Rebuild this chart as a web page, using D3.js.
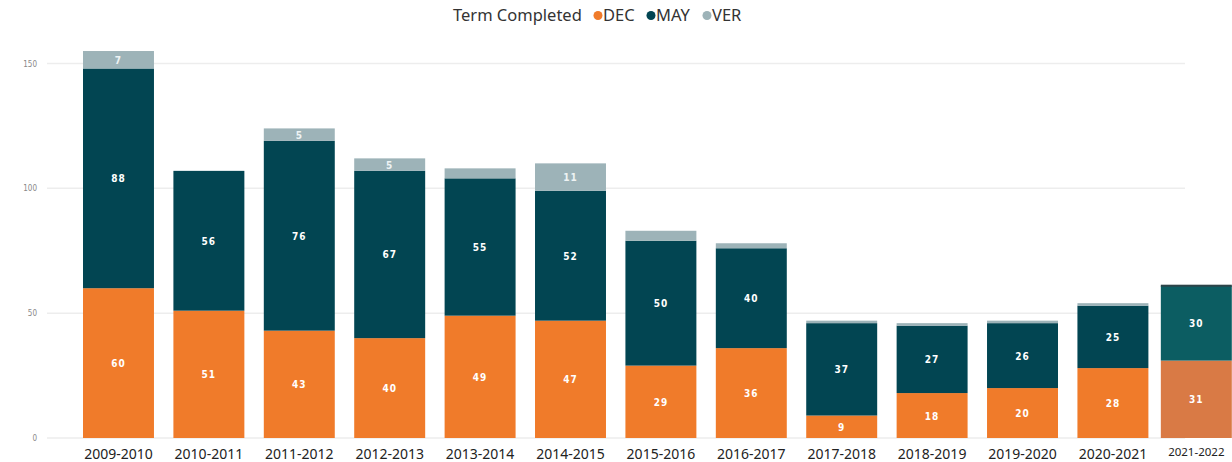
<!DOCTYPE html>
<html>
<head>
<meta charset="utf-8">
<script src="https://cdn.jsdelivr.net/npm/d3@7"></script>
<style>
  body { margin: 0; background: #fff; }
  svg { display: block; }
</style>
</head>
<body>
<div id="chart"></div>
<script>
// chart values
const years = ["2009-2010", "2010-2011", "2011-2012", "2012-2013", "2013-2014", "2014-2015",
  "2015-2016", "2016-2017", "2017-2018", "2018-2019", "2019-2020", "2020-2021", "2021-2022"];
const dec = [60, 51, 43, 40, 49, 47, 29, 36, 9, 18, 20, 28, 31];
const may = [88, 56, 76, 67, 55, 52, 50, 40, 37, 27, 26, 25, 30];
const ver = [7, 0, 5, 5, 4, 11, 4, 2, 1, 1, 1, 1, 0];
const yTicks = [0, 50, 100, 150];
const terms = ["DEC", "MAY", "VER"];

const width = 1232;
const height = 462;

const colors = { DEC: "#f07b2a", MAY: "#024552", VER: "#9db3b8" };
// the last year looks pasted in from another chart, with its own shades
const lastColors = { DEC: "#d97a45", MAY: "#0c5d62", VER: "#9db3b8" };

const svg = d3.select("#chart").append("svg")
  .attr("width", width)
  .attr("height", height);

const y = d3.scaleLinear().domain([0, 150]).range([438, 63.5]);
const step = 90.4;
const x = d3.scaleBand().domain(years)
  .range([83, 83 + step * (years.length - 1) + 71])
  .paddingInner(0.215).paddingOuter(0);
const lastYear = years[years.length - 1];
const xPos = (d) => x(d) + (d === lastYear ? -7 : 0);

// gridlines + y labels
svg.append("g").selectAll("line")
  .data(yTicks)
  .enter().append("line")
  .attr("x1", 47).attr("x2", 1185)
  .attr("y1", (d) => y(d)).attr("y2", (d) => y(d))
  .attr("stroke", "#ededed").attr("stroke-width", 1.5);

svg.append("g").selectAll("text")
  .data(yTicks)
  .enter().append("text")
  .attr("x", 37).attr("y", (d) => y(d) + 3)
  .attr("text-anchor", "end")
  .attr("font-family", "DejaVu Sans Condensed")
  .attr("font-size", 8)
  .attr("fill", "#888")
  .text((d) => d);

// stack the data
const rows = years.map((yr, i) => ({ year: yr, DEC: dec[i], MAY: may[i], VER: ver[i] }));
const series = d3.stack().keys(terms)(rows);

const groups = svg.append("g").selectAll("g")
  .data(series)
  .enter().append("g");

groups.selectAll("rect")
  .data((s) => s.map((d) => ({ key: s.key, y0: d[0], y1: d[1], year: d.data.year })))
  .enter().append("rect")
  .attr("x", (d) => xPos(d.year))
  .attr("width", x.bandwidth())
  .attr("y", (d) => y(d.y1))
  .attr("height", (d) => y(d.y0) - y(d.y1))
  .attr("fill", (d) => d.year === lastYear ? lastColors[d.key] : colors[d.key]);

// thin dark top edge on the pasted bar
const lastTotal = dec[12] + may[12] + ver[12];
svg.append("rect")
  .attr("x", xPos(lastYear)).attr("width", x.bandwidth())
  .attr("y", y(lastTotal) - 1).attr("height", 2)
  .attr("fill", "#2d4449");

// value labels
groups.selectAll("text")
  .data((s) => s.map((d) => ({ key: s.key, y0: d[0], y1: d[1], year: d.data.year })))
  .enter()
  .filter((d) => d.y1 - d.y0 >= 5)
  .append("text")
  .attr("x", (d) => xPos(d.year) + x.bandwidth() / 2)
  .attr("y", (d) => (y(d.y0) + y(d.y1)) / 2 + 4)
  .attr("text-anchor", "middle")
  .attr("font-family", "DejaVu Sans Condensed")
  .attr("font-weight", "bold")
  .attr("font-size", 10)
  .attr("letter-spacing", 1)
  .attr("fill", (d) => d.key === "VER" ? "#eef3f4" : "#fff")
  .text((d) => d.y1 - d.y0);

// x labels
svg.append("g").selectAll("text")
  .data(years)
  .enter().append("text")
  .attr("x", (d) => xPos(d) + x.bandwidth() / 2)
  .attr("y", (d) => d === lastYear ? 456 : 459)
  .attr("text-anchor", "middle")
  .attr("font-family", "Noto Sans")
  .attr("font-size", (d) => d === lastYear ? 11.5 : 14)
  .attr("fill", "#222")
  .text((d) => d);

// legend
const legend = svg.append("g").attr("font-family", "Noto Sans").attr("font-size", 16.5).attr("fill", "#333");
legend.append("text").attr("x", 453).attr("y", 21).text("Term Completed");
const legendX = [598, 651, 707];
legend.selectAll("circle")
  .data(terms)
  .enter().append("circle")
  .attr("cx", (d, i) => legendX[i])
  .attr("cy", 15.5)
  .attr("r", 4.5)
  .attr("fill", (d) => colors[d]);
legend.selectAll("text.key")
  .data(terms)
  .enter().append("text")
  .attr("class", "key")
  .attr("x", (d, i) => legendX[i] + 5)
  .attr("y", 21)
  .text((d) => d);
</script>
</body>
</html>
